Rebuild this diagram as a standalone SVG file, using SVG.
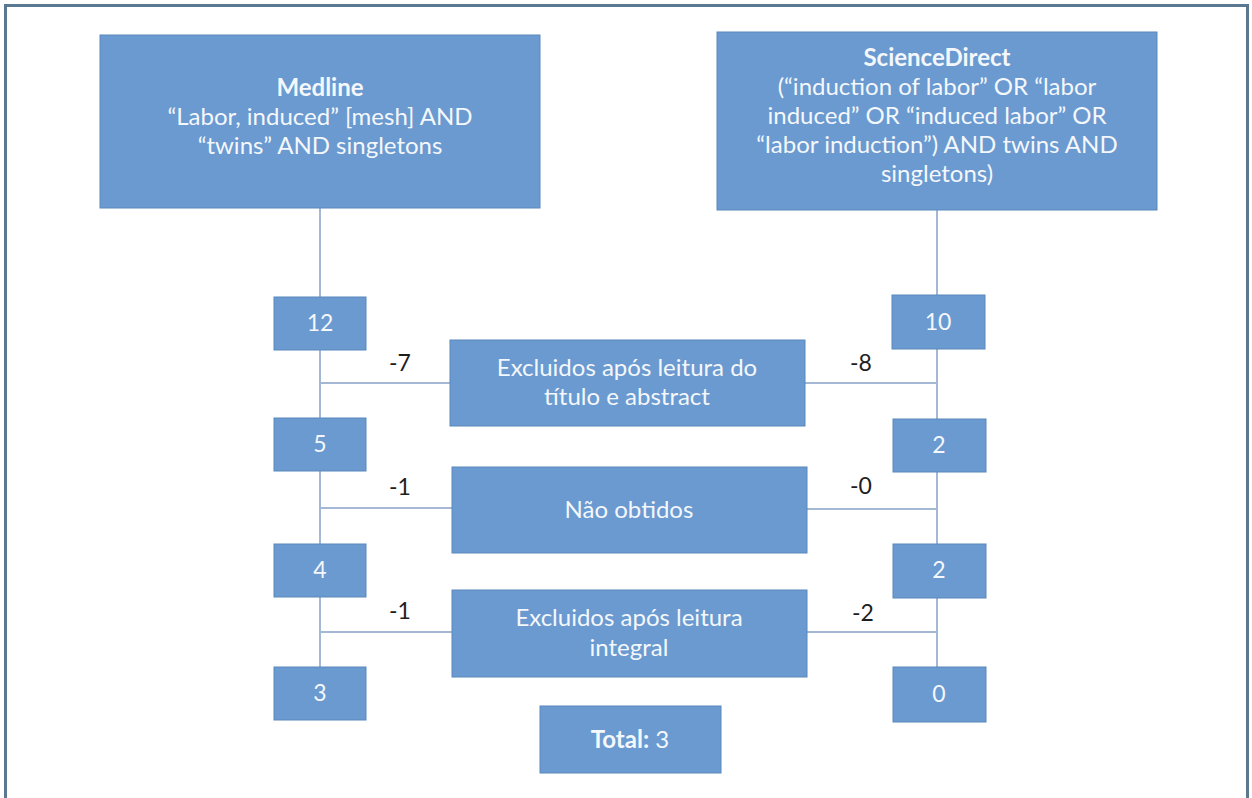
<svg xmlns="http://www.w3.org/2000/svg" width="1252" height="798" viewBox="0 0 1252 798">
<style>
.box{fill:#6a9ad0;stroke:#5b88bd;stroke-width:1}
.t{font-family:Lato,"Open Sans","Liberation Sans",sans-serif;fill:#f4f7fb;text-anchor:middle}
.big{font-size:24px}
.hd{font-size:24px;font-weight:bold}
.num{font-size:23px}
.lbl{font-family:Lato,"Open Sans","Liberation Sans",sans-serif;font-size:23px;fill:#1e1e1e;text-anchor:middle}
.ln{stroke:#a4b8d6;stroke-width:2;fill:none}
</style>
<rect x="0" y="0" width="1252" height="798" fill="#ffffff"/>
<rect x="5.5" y="5.5" width="1242" height="820" fill="none" stroke="#5b7891" stroke-width="3"/>
<g id="connectors">
<line class="ln" x1="320" y1="208" x2="320" y2="667"/>
<line class="ln" x1="937" y1="210" x2="937" y2="667"/>
<line class="ln" x1="320" y1="383" x2="450" y2="383"/>
<line class="ln" x1="805" y1="383" x2="937" y2="383"/>
<line class="ln" x1="320" y1="508" x2="452" y2="508"/>
<line class="ln" x1="807" y1="509" x2="937" y2="509"/>
<line class="ln" x1="320" y1="632" x2="452" y2="632"/>
<line class="ln" x1="807" y1="632" x2="937" y2="632"/>
<text class="lbl" x="400" y="371">-7</text>
<text class="lbl" x="861" y="371">-8</text>
<text class="lbl" x="400" y="495">-1</text>
<text class="lbl" x="861" y="494">-0</text>
<text class="lbl" x="400" y="619">-1</text>
<text class="lbl" x="863" y="621">-2</text>
</g>
<g id="medline">
<rect class="box" x="100" y="35" width="440" height="173"/>
<text class="t hd" x="320" y="96">Medline</text>
<text class="t big" x="320" y="125">“Labor, induced” [mesh] AND</text>
<text class="t big" x="320" y="154">“twins” AND singletons</text>
</g>
<g id="sciencedirect">
<rect class="box" x="717" y="32" width="440" height="178"/>
<text class="t hd" x="937" y="66">ScienceDirect</text>
<text class="t big" x="937" y="95">(“induction of labor” OR “labor</text>
<text class="t big" x="937" y="124">induced” OR “induced labor” OR</text>
<text class="t big" x="937" y="153">“labor induction”) AND twins AND</text>
<text class="t big" x="937" y="182">singletons)</text>
</g>
<g id="m12"><rect class="box" x="274" y="297" width="92" height="53"/><text class="t num" x="320" y="331">12</text></g>
<g id="m5"><rect class="box" x="274" y="418" width="92" height="53"/><text class="t num" x="320" y="452">5</text></g>
<g id="m4"><rect class="box" x="274" y="544" width="92" height="53"/><text class="t num" x="320" y="578">4</text></g>
<g id="m3"><rect class="box" x="274" y="667" width="92" height="53"/><text class="t num" x="320" y="701">3</text></g>
<g id="s10"><rect class="box" x="892" y="295" width="93" height="54"/><text class="t num" x="938" y="330">10</text></g>
<g id="s2a"><rect class="box" x="893" y="419" width="93" height="53"/><text class="t num" x="939" y="453">2</text></g>
<g id="s2b"><rect class="box" x="893" y="544" width="93" height="54"/><text class="t num" x="939" y="578">2</text></g>
<g id="s0"><rect class="box" x="893" y="667" width="93" height="55"/><text class="t num" x="939" y="702">0</text></g>
<g id="excl1"><rect class="box" x="450" y="340" width="355" height="86"/>
<text class="t big" x="627" y="376">Excluidos após leitura do</text>
<text class="t big" x="627" y="405">título e abstract</text></g>
<g id="nao"><rect class="box" x="452" y="467" width="355" height="86"/>
<text class="t big" x="629" y="518">Não obtidos</text></g>
<g id="excl2"><rect class="box" x="452" y="590" width="355" height="87"/>
<text class="t big" x="629" y="626">Excluidos após leitura</text>
<text class="t big" x="629" y="656">integral</text></g>
<g id="total"><rect class="box" x="540" y="706" width="181" height="67"/>
<text class="t big" x="630" y="748"><tspan font-weight="bold">Total:</tspan> 3</text></g>
</svg>
